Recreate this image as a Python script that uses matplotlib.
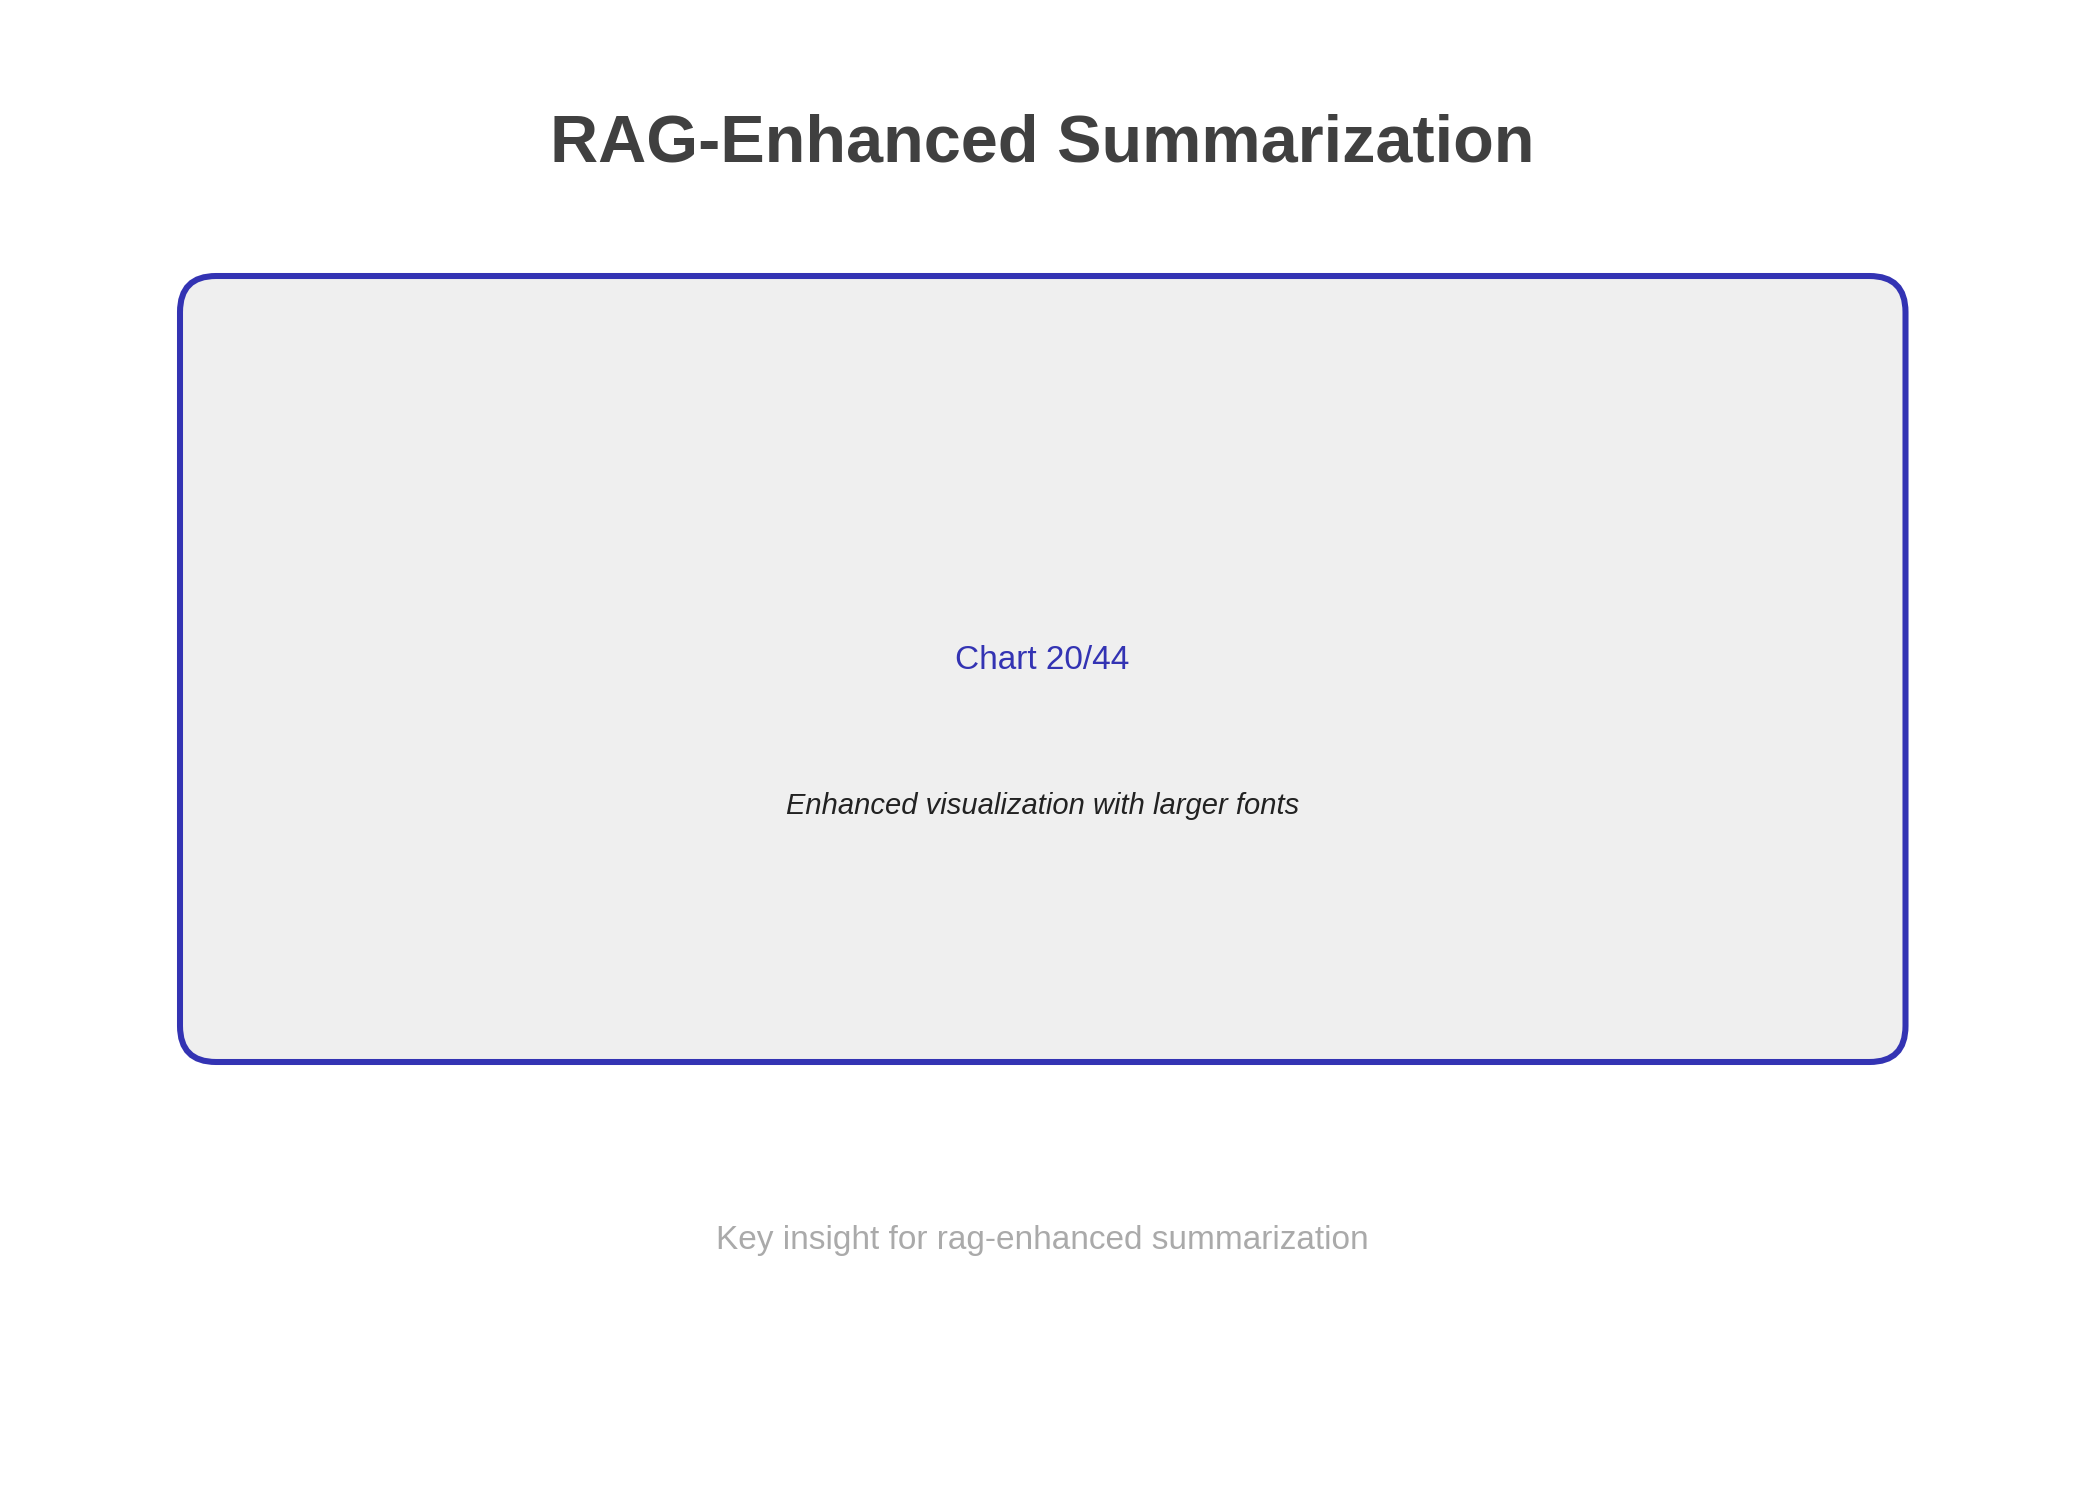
import matplotlib
matplotlib.use("Agg")
import matplotlib.pyplot as plt
from matplotlib.patches import FancyBboxPatch

# ---- content ----
title = "RAG-Enhanced Summarization"
chart_label = "Chart 20/44"
subtitle = "Enhanced visualization with larger fonts"
insight = "Key insight for rag-enhanced summarization"

# ---- style ----
border_color = "#3333b3"
fill_color = "#efefef"
title_color = "#404040"
sub_color = "#222222"
insight_color = "#aaaaaa"

plt.rcParams['font.family'] = ['Liberation Sans', 'DejaVu Sans']

W, H = 2085, 1485
DPI = 150
fig = plt.figure(figsize=(W / DPI, H / DPI), dpi=DPI)
fig.patch.set_facecolor("white")
ax = fig.add_axes([0, 0, 1, 1])
ax.set_xlim(0, W)
ax.set_ylim(H, 0)
ax.axis("off")

box = FancyBboxPatch((180, 276), 1725.5, 786,
                     boxstyle="round,pad=0,rounding_size=36",
                     facecolor=fill_color, edgecolor=border_color,
                     linewidth=2.9, zorder=1)
ax.add_patch(box)

ax.text(W / 2, 161, title, ha="center", va="baseline", fontsize=32,
        fontweight="bold", color=title_color)
ax.text(W / 2, 669, chart_label, ha="center", va="baseline", fontsize=16,
        color=border_color, zorder=3)
ax.text(W / 2, 814, subtitle, ha="center", va="baseline", fontsize=14,
        style="italic", color=sub_color, zorder=3)
ax.text(W / 2, 1249, insight, ha="center", va="baseline", fontsize=16,
        color=insight_color)

fig.savefig("out.png", dpi=DPI, facecolor="white")
